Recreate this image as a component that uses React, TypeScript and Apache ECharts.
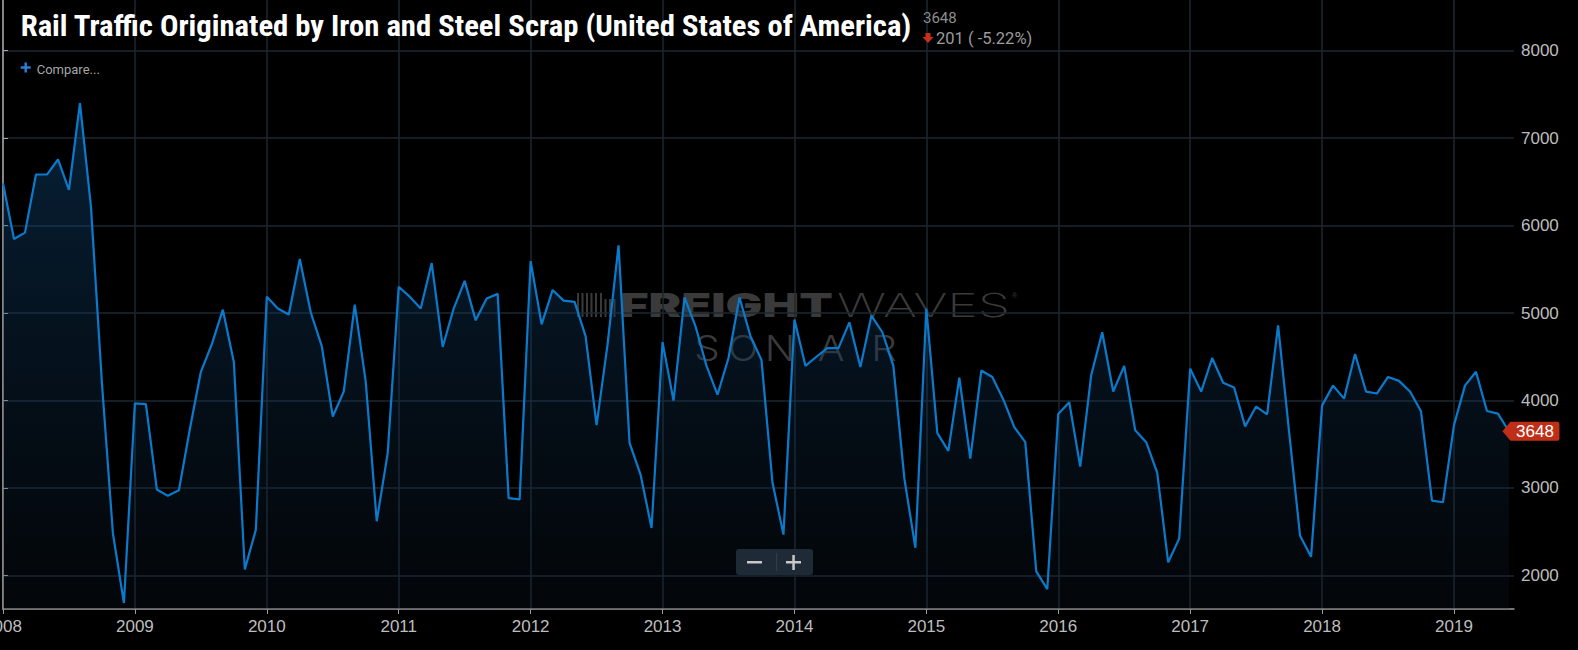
import React, { useEffect, useRef } from "react";
import * as echarts from "echarts";

const START_YEAR = 2008;
const TITLE = "Rail Traffic Originated by Iron and Steel Scrap (United States of America)";

const v2008 = [6485, 5847, 5920, 6584, 6584, 6756, 6408, 7400, 6220, 4200, 2479, 1684];
const v2009 = [3966, 3957, 2981, 2909, 2972, 3673, 4328, 4645, 5038, 4441, 2068, 2520];
const v2010 = [5187, 5051, 4984, 5617, 5006, 4622, 3817, 4102, 5097, 4215, 2619, 3401];
const v2011 = [5300, 5187, 5051, 5571, 4613, 5051, 5368, 4916, 5165, 5219, 2882, 2868];
const v2012 = [5594, 4871, 5264, 5142, 5128, 4735, 3718, 4645, 5775, 3514, 3153, 2542];
const v2013 = [4667, 3998, 5178, 4848, 4396, 4066, 4486, 5178, 4735, 4464, 3062, 2466];
const v2014 = [4925, 4396, 4500, 4599, 4599, 4893, 4382, 4970, 4780, 4396, 3108, 2316];
const v2015 = [5052, 3627, 3424, 4260, 3334, 4342, 4269, 4012, 3695, 3523, 2045, 1842];
const v2016 = [3845, 3980, 3243, 4292, 4780, 4102, 4396, 3659, 3523, 3175, 2149, 2420];
const v2017 = [4364, 4102, 4486, 4202, 4147, 3704, 3930, 3840, 4860, 3640, 2452, 2212];
const v2018 = [3944, 4170, 4021, 4532, 4102, 4080, 4269, 4224, 4102, 3876, 2854, 2836];
const v2019 = [3718, 4170, 4328, 3880, 3849, 3648];

const values = [
  ...v2008, ...v2009, ...v2010, ...v2011, ...v2012, ...v2013,
  ...v2014, ...v2015, ...v2016, ...v2017, ...v2018, ...v2019,
];

const Y_MIN = 1615;
const Y_MAX = 8580;
const X_MAX = 137.46;

function measure(text: string, font: string): number {
  const ctx = document.createElement("canvas").getContext("2d");
  if (!ctx) return 0;
  ctx.font = font;
  return ctx.measureText(text).width;
}

export default function App() {
  const ref = useRef<HTMLDivElement>(null);

  useEffect(() => {
    document.body.style.margin = "0";
    document.body.style.background = "#000";
    const chart = echarts.init(ref.current!, null, { renderer: "svg" });

    const data = values.map((v, i) => [i, v]);
    const lastIdx = values.length - 1;
    const last = values[lastIdx];
    const prev = values[lastIdx - 1];
    const diff = last - prev;
    const pct = (diff / prev) * 100;

    const titleFamily = "'Roboto Condensed', Roboto";
    const titleW = measure(TITLE, `bold 30px ${titleFamily}`) || 1000;
    const titleScale = 892 / titleW;

    const fwFam = "Inter, 'Noto Sans', sans-serif";
    const fW = measure("FREIGHT", `900 33px ${fwFam}`) || 150;
    const wW = measure("WAVES", `200 33px ${fwFam}`) || 120;

    const wm = "#3a3a3a";
    const bars: any[] = [];
    const barXs = [577, 581.5, 586, 590.5, 595, 600, 604.5, 609, 613.5];
    barXs.forEach((bx, i) => {
      const h = i >= 6 ? 18 : 24;
      bars.push({
        type: "rect",
        shape: { x: bx, y: 317 - h, width: 2, height: h },
        style: { fill: wm },
        silent: true,
      });
    });

    const sonarX = [707, 743, 780, 831, 884];
    const sonar = "SONAR".split("").map((ch, i) => ({
      type: "text",
      x: sonarX[i],
      y: 348,
      scaleX: 1.15,
      style: {
        text: ch,
        fill: wm,
        fontFamily: fwFam,
        fontWeight: 300,
        fontSize: 35,
        align: "center",
        verticalAlign: "middle",
      },
      silent: true,
    }));

    const option: any = {
      animation: false,
      backgroundColor: "#000",
      grid: {
        left: 3,
        right: 64,
        top: 0,
        bottom: 41,
        containLabel: false,
        outerBoundsMode: "none",
      },
      xAxis: {
        type: "value",
        min: 0,
        max: X_MAX,
        interval: 12,
        axisLine: { show: true, lineStyle: { color: "#9a9a9a", width: 1.5 } },
        axisTick: { show: true, length: 5, lineStyle: { color: "#9a9a9a" } },
        axisLabel: {
          color: "#bdbdbd",
          fontSize: 17,
          fontFamily: "'Liberation Sans', Arial, sans-serif",
          margin: 9,
          showMaxLabel: false,
          formatter: (v: number) =>
            Math.abs(v / 12 - Math.round(v / 12)) < 1e-6 ? String(START_YEAR + Math.round(v / 12)) : "",
        },
        splitLine: { show: true, showMaxLine: false, lineStyle: { color: "#1c2732", width: 1.5 } },
      },
      yAxis: {
        type: "value",
        position: "right",
        min: Y_MIN,
        max: Y_MAX,
        splitNumber: 5,
        axisLine: { show: true, lineStyle: { color: "#a8a8a8", width: 1.5 } },
        axisTick: { show: true, length: 5, lineStyle: { color: "#a8a8a8" } },
        axisLabel: {
          color: "#bdbdbd",
          fontSize: 17,
          fontFamily: "'Liberation Sans', Arial, sans-serif",
          margin: 7,
          showMinLabel: false,
          showMaxLabel: false,
          formatter: (v: number) => String(v),
        },
        splitLine: {
          show: true,
          showMinLine: false,
          showMaxLine: false,
          lineStyle: { color: "#1c2732", width: 1.5 },
        },
      },
      series: [
        {
          type: "line",
          data,
          symbol: "none",
          lineStyle: { color: "#0a7bcc", width: 2.2 },
          itemStyle: { color: "#0a7bcc" },
          areaStyle: {
            color: new echarts.graphic.LinearGradient(0, 0, 0, 1, [
              { offset: 0, color: "rgba(16,80,135,0.6)" },
              { offset: 1, color: "rgba(14,28,44,0.3)" },
            ]),
          },
          z: 3,
          markPoint: {
            silent: true,
            symbol: "path://M0,9.5 L8,0 L55,0 Q57,0 57,2 L57,17 Q57,19 55,19 L8,19 Z",
            symbolSize: [57, 19],
            symbolOffset: [22, 0],
            symbolKeepAspect: false,
            itemStyle: { color: "#bf2f17" },
            label: {
              show: true,
              color: "#fff",
              fontSize: 17,
              fontFamily: "'Liberation Sans', Arial, sans-serif",
              offset: [4, 0],
              formatter: () => String(last),
            },
            data: [{ coord: [lastIdx, last], value: last }],
          },
        },
      ],
      graphic: [
        ...bars,
        {
          type: "text",
          x: 620,
          y: 305,
          scaleX: 213 / fW,
          style: {
            text: "FREIGHT",
            fill: wm,
            fontFamily: fwFam,
            fontWeight: 900,
            fontSize: 33,
            verticalAlign: "middle",
          },
          silent: true,
        },
        {
          type: "text",
          x: 837,
          y: 305,
          scaleX: 173 / wW,
          style: {
            text: "WAVES",
            fill: wm,
            fontFamily: fwFam,
            fontWeight: 200,
            fontSize: 33,
            verticalAlign: "middle",
          },
          silent: true,
        },
        {
          type: "text",
          x: 1012,
          y: 295,
          style: { text: "®", fill: wm, fontSize: 7, verticalAlign: "middle" },
          silent: true,
        },
        ...sonar,
        {
          type: "text",
          x: 20.7,
          y: 26,
          scaleX: titleScale,
          z: 100,
          style: {
            text: TITLE,
            fill: "#ffffff",
            fontFamily: titleFamily,
            fontWeight: "bold",
            fontSize: 30,
            verticalAlign: "middle",
          },
          silent: true,
        },
        {
          type: "text",
          x: 923,
          y: 18,
          z: 100,
          style: {
            text: String(last),
            fill: "#8e8e8e",
            fontFamily: "Roboto",
            fontSize: 15,
            verticalAlign: "middle",
          },
          silent: true,
        },
        {
          type: "polygon",
          z: 100,
          shape: {
            points: [
              [925.5, 33],
              [930.5, 33],
              [930.5, 37],
              [933.5, 37],
              [928, 43],
              [922.5, 37],
              [925.5, 37],
            ],
          },
          style: { fill: diff < 0 ? "#c9301a" : "#2ea043" },
          silent: true,
        },
        {
          type: "text",
          x: 936,
          y: 38.5,
          z: 100,
          style: {
            text: `${Math.abs(diff)} ( ${pct.toFixed(2)}%)`,
            fill: "#9c9c9c",
            fontFamily: "Roboto",
            fontSize: 16.5,
            verticalAlign: "middle",
          },
          silent: true,
        },
        {
          type: "rect",
          z: 100,
          shape: { x: 20.7, y: 66.3, width: 10, height: 2.4 },
          style: { fill: "#2c7fd8" },
          silent: true,
        },
        {
          type: "rect",
          z: 100,
          shape: { x: 24.5, y: 62.5, width: 2.4, height: 10 },
          style: { fill: "#2c7fd8" },
          silent: true,
        },
        {
          type: "text",
          x: 36.7,
          y: 69,
          z: 100,
          style: {
            text: "Compare...",
            fill: "#a5a5a5",
            fontFamily: "Roboto",
            fontSize: 13,
            verticalAlign: "middle",
          },
          silent: true,
        },
        {
          type: "rect",
          z: 100,
          shape: { x: 736, y: 549, width: 77, height: 26, r: 3 },
          style: { fill: "#1e2a36" },
          silent: true,
        },
        {
          type: "line",
          z: 101,
          shape: { x1: 776.7, y1: 553, x2: 776.7, y2: 571 },
          style: { stroke: "#34424f", lineWidth: 1 },
          silent: true,
        },
        {
          type: "rect",
          z: 101,
          shape: { x: 747, y: 561, width: 15, height: 2.5 },
          style: { fill: "#c8c8c8" },
          silent: true,
        },
        {
          type: "rect",
          z: 101,
          shape: { x: 786, y: 561, width: 15, height: 2.5 },
          style: { fill: "#c8c8c8" },
          silent: true,
        },
        {
          type: "rect",
          z: 101,
          shape: { x: 792.3, y: 555, width: 2.5, height: 15 },
          style: { fill: "#c8c8c8" },
          silent: true,
        },
      ],
    };

    chart.setOption(option);
    return () => chart.dispose();
  }, []);

  return <div ref={ref} style={{ width: 1578, height: 650, background: "#000" }} />;
}
